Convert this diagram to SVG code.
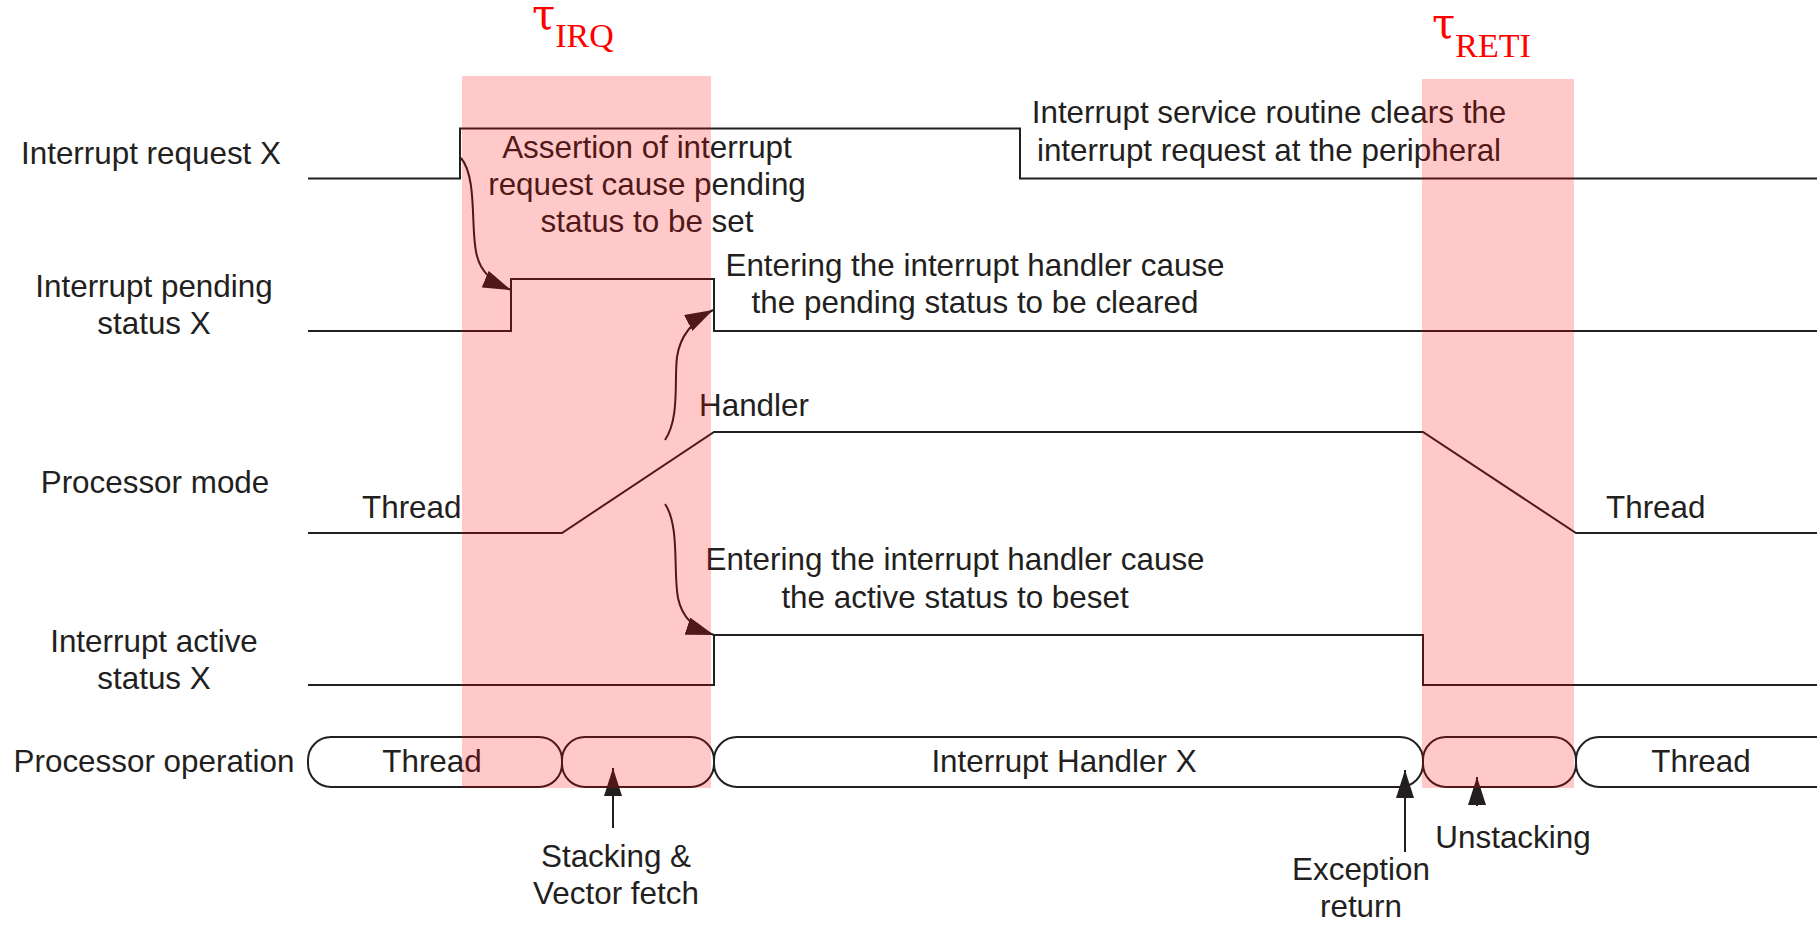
<svg xmlns="http://www.w3.org/2000/svg" width="1817" height="926" viewBox="0 0 1817 926">
<defs>
<style>
.t{font-family:"Liberation Sans",Arial,sans-serif;font-size:31.4px;fill:#231f20}
.m{text-anchor:middle}
.sig{fill:none;stroke:#231f20;stroke-width:2}
.pill{fill:#fff;stroke:#231f20;stroke-width:2}
.tau{font-family:"Liberation Serif","Times New Roman",serif;fill:#ff0000}
.g{font-family:"DejaVu Serif",serif;font-size:42px}
.band{fill:#ff0000;fill-opacity:0.21}
.arr{fill:none;stroke:#231f20;stroke-width:2}
</style>
<marker id="ah" viewBox="0 0 28 18" refX="28" refY="9" markerWidth="28" markerHeight="18" markerUnits="userSpaceOnUse" orient="auto">
<path d="M0,0 L28,9 L0,18 z" fill="#231f20"/>
</marker>
</defs>
<rect width="1817" height="926" fill="#fff"/>

<g id="labels">
<text class="t m" x="151" y="164">Interrupt request X</text>
<text class="t m" x="154" y="297">Interrupt pending</text>
<text class="t m" x="154" y="334">status X</text>
<text class="t m" x="155" y="493">Processor mode</text>
<text class="t m" x="154" y="652">Interrupt active</text>
<text class="t m" x="154" y="689">status X</text>
<text class="t m" x="154" y="772">Processor operation</text>
</g>

<g id="signal-irq">
<polyline class="sig" points="308,178.5 460,178.5 460,128.5 1020,128.5 1020,178.5 1817,178.5"/>
</g>
<g id="signal-pending">
<polyline class="sig" points="308,331 511,331 511,279 714,279 714,331 1817,331"/>
</g>
<g id="signal-mode">
<polyline class="sig" points="308,533 562,533 714,432 1423,432 1576,533 1817,533"/>
<text class="t" x="699" y="416">Handler</text>
<text class="t" x="362" y="518">Thread</text>
<text class="t" x="1606" y="518">Thread</text>
</g>
<g id="signal-active">
<polyline class="sig" points="308,685 714,685 714,635 1423,635 1423,685 1817,685"/>
</g>

<g id="operation">
<g id="op-thread1"><rect class="pill" x="308" y="737" width="254" height="50" rx="23"/><text class="t m" x="432" y="772">Thread</text></g>
<g id="op-stacking"><rect class="pill" x="562" y="737" width="152" height="50" rx="23"/></g>
<g id="op-handler"><rect class="pill" x="714" y="737" width="709" height="50" rx="23"/><text class="t m" x="1064" y="772">Interrupt Handler X</text></g>
<g id="op-unstacking"><rect class="pill" x="1423" y="737" width="153" height="50" rx="23"/></g>
<g id="op-thread2"><rect class="pill" x="1576" y="737" width="280" height="50" rx="23"/><text class="t m" x="1701" y="772">Thread</text></g>
</g>

<g id="notes">
<text class="t m" x="647" y="158">Assertion of interrupt</text>
<text class="t m" x="647" y="195">request cause pending</text>
<text class="t m" x="647" y="232">status to be set</text>
<text class="t m" x="1269" y="123">Interrupt service routine clears the</text>
<text class="t m" x="1269" y="161">interrupt request at the peripheral</text>
<text class="t m" x="975" y="276">Entering the interrupt handler cause</text>
<text class="t m" x="975" y="313">the pending status to be cleared</text>
<text class="t m" x="955" y="570">Entering the interrupt handler cause</text>
<text class="t m" x="955" y="608">the active status to beset</text>
<text class="t m" x="616" y="867">Stacking &amp;</text>
<text class="t m" x="616" y="904">Vector fetch</text>
<text class="t m" x="1361" y="880">Exception</text>
<text class="t m" x="1361" y="917">return</text>
<text class="t m" x="1513" y="848">Unstacking</text>
</g>

<g id="connectors">
<path class="arr" d="M461,158 C478,178 470,232 477,256 C481,272 492,282 511,290" marker-end="url(#ah)"/>
<path class="arr" d="M665,440 C680,418 674,380 677,357 C680,336 692,321 713,310" marker-end="url(#ah)"/>
<path class="arr" d="M665,504 C680,526 673,572 678,598 C682,617 693,628 714,635" marker-end="url(#ah)"/>
<line class="arr" x1="613" y1="828" x2="613" y2="768" marker-end="url(#ah)"/>
<line class="arr" x1="1405" y1="852" x2="1405" y2="770" marker-end="url(#ah)"/>
<line class="arr" x1="1477" y1="806" x2="1477" y2="777" marker-end="url(#ah)"/>
</g>

<g id="bands">
<rect class="band" x="462" y="76" width="249" height="712"/>
<rect class="band" x="1422" y="79" width="152" height="709"/>
</g>

<g id="tau-labels">
<text class="tau" x="532" y="29"><tspan class="g">τ</tspan><tspan font-size="34" dy="18">IRQ</tspan></text>
<text class="tau" x="1432" y="38"><tspan class="g">τ</tspan><tspan font-size="34" dy="19">RETI</tspan></text>
</g>
</svg>
